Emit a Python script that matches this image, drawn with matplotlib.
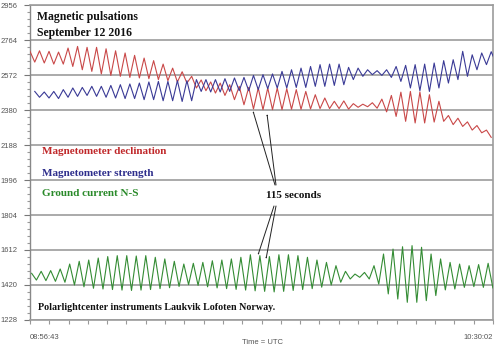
import numpy as np
import matplotlib
matplotlib.use("Agg")
import matplotlib.pyplot as plt

# ---- data ----
start_label = "08:56:43"
end_label = "10:30:02"
duration_s = 5599          # 08:56:43 -> 10:30:02
period_s = 115             # "115 seconds"

y_ticks = [1228, 1420, 1612, 1804, 1996, 2188, 2380, 2572, 2764, 2956]

# per-cycle extremes (one peak and one trough per 115 s cycle)
red_peaks = [2702, 2705, 2702, 2698, 2720, 2729, 2724, 2724, 2716, 2705,
             2693, 2680, 2665, 2651, 2632, 2610, 2590, 2565, 2545, 2534,
             2528, 2519, 2510, 2504, 2501, 2501, 2501, 2497, 2492, 2482,
             2464, 2446, 2428, 2430, 2415, 2412, 2420, 2440, 2460, 2478,
             2482, 2479, 2464, 2428, 2350, 2335, 2315, 2295, 2270]
red_troughs = [2643, 2638, 2632, 2632, 2619, 2601, 2592, 2578, 2570, 2565,
               2559, 2556, 2552, 2547, 2541, 2534, 2528, 2501, 2486, 2473,
               2460, 2437, 2409, 2386, 2382, 2382, 2382, 2384, 2384, 2386,
               2388, 2388, 2388, 2385, 2395, 2398, 2390, 2370, 2345, 2318,
               2309, 2309, 2314, 2318, 2300, 2290, 2270, 2255, 2230]

blue_peaks = [2482, 2479, 2482, 2492, 2501, 2504, 2510, 2510, 2515, 2519,
              2523, 2528, 2534, 2537, 2537, 2541, 2541, 2547, 2547, 2547,
              2552, 2556, 2559, 2570, 2574, 2578, 2592, 2601, 2610, 2619,
              2629, 2632, 2632, 2614, 2610, 2601, 2596, 2601, 2619, 2625,
              2629, 2632, 2638, 2651, 2656, 2702, 2683, 2693, 2700]
blue_troughs = [2450, 2446, 2443, 2450, 2455, 2460, 2455, 2450, 2446, 2443,
                2443, 2437, 2437, 2431, 2431, 2427, 2431, 2482, 2479, 2479,
                2482, 2486, 2486, 2492, 2497, 2501, 2501, 2504, 2504, 2510,
                2510, 2515, 2519, 2547, 2565, 2574, 2570, 2559, 2537, 2501,
                2486, 2482, 2501, 2528, 2547, 2565, 2601, 2629, 2638]

green_peaks = [1484, 1495, 1499, 1508, 1535, 1550, 1557, 1568, 1576, 1581,
               1581, 1579, 1581, 1572, 1563, 1550, 1535, 1539, 1544, 1553,
               1557, 1563, 1572, 1586, 1581, 1576, 1586, 1586, 1581, 1572,
               1557, 1544, 1526, 1495, 1480, 1489, 1526, 1590, 1617, 1630,
               1636, 1627, 1590, 1563, 1544, 1535, 1526, 1532, 1539]
green_troughs = [1447, 1444, 1440, 1435, 1420, 1410, 1402, 1398, 1395, 1392,
                 1390, 1392, 1395, 1400, 1405, 1412, 1422, 1418, 1410, 1404,
                 1400, 1396, 1392, 1388, 1385, 1382, 1385, 1390, 1395, 1400,
                 1408, 1420, 1435, 1453, 1462, 1453, 1425, 1371, 1343, 1325,
                 1325, 1334, 1362, 1393, 1398, 1407, 1411, 1407, 1404]

labels = ["Magnetometer declination", "Magnetometer strength", "Ground current N-S"]
colors = ["#c94848", "#3a3a96", "#348c34"]
text_colors = ["#c0282a", "#2e2e8c", "#2a8a2a"]


def wave(peaks, troughs, phase):
    n = len(peaks)
    t = np.empty(2 * n)
    v = np.empty(2 * n)
    t[0::2] = np.arange(n) * period_s + phase
    t[1::2] = np.arange(n) * period_s + phase + period_s / 2
    v[0::2] = peaks
    v[1::2] = troughs
    return t, v


fig = plt.figure(figsize=(5.0, 3.48), dpi=100)
ax = fig.add_axes([0.06, 0.0805, 0.926, 0.905])

grid_c = "#9c9c9c"
for yv in y_ticks:
    ax.axhline(yv, color=grid_c, lw=1.2, zorder=1)

series = [(red_peaks, red_troughs, 0.0),
          (blue_peaks, blue_troughs, period_s / 2),
          (green_peaks, green_troughs, 20.0)]
for (p, tr, ph), c in zip(series, colors):
    t, v = wave(p, tr, ph)
    ax.plot(t, v, color=c, lw=0.8, zorder=3, solid_joinstyle="round")

ax.set_xlim(0, duration_s)
ax.set_ylim(y_ticks[0], y_ticks[-1])

ax.set_yticks(y_ticks)
ax.set_yticklabels([str(v) for v in y_ticks])
minor_y = [y_ticks[0] + k * 192 / 5 for k in range(46) if k % 5 != 0]
ax.set_yticks(minor_y, minor=True)
ax.set_xticks(np.linspace(0, duration_s, 25), minor=True)
ax.set_xticks([])
ax.tick_params(axis="y", which="major", length=4, width=0.8, color="#777777",
               labelsize=5.5, labelcolor="#555555", pad=5)
ax.tick_params(axis="y", which="minor", length=2, width=0.8, color="#999999")
ax.tick_params(axis="x", which="minor", length=3, width=0.8, color="#999999")
for tl in ax.get_yticklabels():
    tl.set_fontfamily("Liberation Sans")

for s in ["top", "right", "bottom"]:
    ax.spines[s].set_color(grid_c)
    ax.spines[s].set_linewidth(1.2)
ax.spines["left"].set_color("#888888")
ax.spines["left"].set_linewidth(1.0)

# bottom labels
ax.text(0, -0.045, start_label, transform=ax.transAxes, ha="left", va="top",
        fontsize=5.5, color="#555555", family="Liberation Sans")
ax.text(1, -0.045, end_label, transform=ax.transAxes, ha="right", va="top",
        fontsize=5.5, color="#555555", family="Liberation Sans")
fig.text(262 / 500, 1 - 343 / 348, "Time = UTC", ha="center", va="center",
         fontsize=5.5, color="#555555", family="Liberation Sans")

serif = "Liberation Serif"


def fpos(x, y):
    return x / 500, 1 - y / 348


fig.text(*fpos(37, 17), "Magnetic pulsations", ha="left", va="center",
         fontsize=8.5, fontweight="bold", family=serif, color="#111111")
fig.text(*fpos(37, 33), "September 12 2016", ha="left", va="center",
         fontsize=8.5, fontweight="bold", family=serif, color="#111111")
for lab, tc, yy in zip(labels, text_colors, [152, 173, 193]):
    fig.text(*fpos(42, yy), lab, ha="left", va="center", fontsize=8,
             fontweight="bold", family=serif, color=tc)
fig.text(*fpos(266, 196), "115 seconds", ha="left", va="center", fontsize=8,
         fontweight="bold", family=serif, color="#111111")
fig.text(*fpos(38, 307), "Polarlightcenter instruments Laukvik Lofoten Norway.",
         ha="left", va="center", fontsize=7.2, fontweight="bold", family=serif,
         color="#111111")

arrow_kw = dict(arrowstyle="-|>,head_length=0.35,head_width=0.15", color="#222222",
                lw=0.7, shrinkA=0, shrinkB=0)
for (x0, y0), (x1, y1) in [((275, 185), (253, 111)), ((276, 185), (267, 114)),
                           ((274, 206), (258, 255)), ((276, 206), (266, 259))]:
    fig.add_artist(matplotlib.patches.FancyArrowPatch(
        fpos(x0, y0), fpos(x1, y1), transform=fig.transFigure, **arrow_kw))

fig.savefig("out.png", dpi=100)
